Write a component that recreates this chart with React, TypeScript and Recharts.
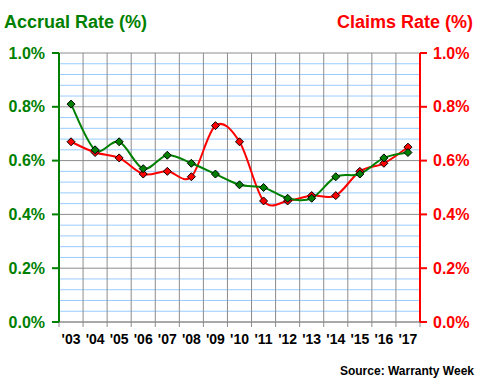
import React from 'react';
import { LineChart, Line, XAxis, YAxis, ReferenceLine } from 'recharts';

const years = ["'03", "'04", "'05", "'06", "'07", "'08", "'09", "'10", "'11", "'12", "'13", "'14", "'15", "'16", "'17"];
const accrualRate = [0.81, 0.64, 0.67, 0.57, 0.62, 0.59, 0.55, 0.51, 0.50, 0.46, 0.46, 0.54, 0.55, 0.61, 0.63];
const claimsRate = [0.67, 0.63, 0.61, 0.55, 0.56, 0.54, 0.73, 0.67, 0.45, 0.45, 0.47, 0.47, 0.56, 0.59, 0.65];
const yTicks = [0, 0.2, 0.4, 0.6, 0.8, 1.0];
const minorTicks = [0.04, 0.08, 0.12, 0.16, 0.24, 0.28, 0.32, 0.36, 0.44, 0.48, 0.52, 0.56, 0.64, 0.68, 0.72, 0.76, 0.84, 0.88, 0.92, 0.96];
const boundaryTicks = [-0.5, 0.5, 1.5, 2.5, 3.5, 4.5, 5.5, 6.5, 7.5, 8.5, 9.5, 10.5, 11.5, 12.5, 13.5, 14.5];
const labelTicks = [0, 1, 2, 3, 4, 5, 6, 7, 8, 9, 10, 11, 12, 13, 14];

const data = years.map((y, i) => ({ i, year: y, accrual: accrualRate[i], claims: claimsRate[i] }));

const GREEN = '#008000';
const RED = '#ff0000';
const GRID = '#8c8c8c';
const MINOR = '#99ccff';
const FONT = 'Arial, "Liberation Sans", sans-serif';

// Excel-like smoothed line (Catmull-Rom / cardinal tension 0)
const excelCurve = (context: any) => {
  let pts: [number, number][] = [];
  return {
    areaStart() {},
    areaEnd() {},
    lineStart() { pts = []; },
    lineEnd() {
      const n = pts.length;
      if (!n) return;
      context.moveTo(pts[0][0], pts[0][1]);
      for (let k = 0; k < n - 1; k++) {
        const p0 = pts[k - 1] || pts[k];
        const p1 = pts[k];
        const p2 = pts[k + 1];
        const p3 = pts[k + 2] || pts[k + 1];
        context.bezierCurveTo(
          p1[0] + (p2[0] - p0[0]) / 6, p1[1] + (p2[1] - p0[1]) / 6,
          p2[0] - (p3[0] - p1[0]) / 6, p2[1] - (p3[1] - p1[1]) / 6,
          p2[0], p2[1]
        );
      }
    },
    point(x: number, y: number) { pts.push([x, y]); },
  };
};

const Diamond = (fill: string) => (props: any) => {
  const { cx, cy, index } = props;
  if (cx == null || cy == null) return <g key={index} />;
  const r = 4;
  return (
    <polygon
      key={index}
      points={`${cx},${cy - r} ${cx + r},${cy} ${cx},${cy + r} ${cx - r},${cy}`}
      fill={fill}
      stroke="#000"
      strokeWidth={1}
    />
  );
};

const EmptyTick = () => <g />;
const pct = (v: number) => v.toFixed(1) + '%';

export default function App() {
  return (
    <div style={{ position: 'absolute', left: 0, top: 0, width: 480, height: 380, background: '#fff', fontFamily: FONT }}>
      <LineChart width={480} height={380} data={data} margin={{ top: 53, right: 0, left: 0, bottom: 0 }}>
        <XAxis xAxisId="g" type="number" dataKey="i" domain={[-0.5, 14.5]} ticks={boundaryTicks} tick={EmptyTick} interval={0}
          tickSize={5} height={6} axisLine={{ stroke: GRID, strokeWidth: 1 }} tickLine={{ stroke: GRID }} />
        <XAxis xAxisId="lab" type="number" dataKey="i" domain={[-0.5, 14.5]} ticks={labelTicks} interval={0}
          tickFormatter={(v: number) => years[v]} axisLine={false} tickLine={false} tickSize={4} tickMargin={2} height={52}
          tick={{ fill: '#000', fontSize: 14, fontWeight: 'bold', fontFamily: FONT }} />
        <YAxis yAxisId="l" orientation="left" domain={[0, 1]} ticks={yTicks} type="number" width={59} interval={0}
          tickFormatter={pct} tickSize={7} tickMargin={7}
          axisLine={{ stroke: GREEN, strokeWidth: 2 }} tickLine={{ stroke: GREEN, strokeWidth: 2 }}
          tick={{ fill: GREEN, fontSize: 16, fontWeight: 'bold', fontFamily: FONT }} />
        <YAxis yAxisId="lm" orientation="left" mirror domain={[0, 1]} ticks={yTicks} type="number" width={6} interval={0}
          tick={EmptyTick} tickSize={6} axisLine={false} tickLine={{ stroke: GREEN, strokeWidth: 2 }} />
        <YAxis yAxisId="r" orientation="right" domain={[0, 1]} ticks={yTicks} type="number" width={60} interval={0}
          tickFormatter={pct} tickSize={7} tickMargin={6}
          axisLine={{ stroke: RED, strokeWidth: 2 }} tickLine={{ stroke: RED, strokeWidth: 2 }}
          tick={{ fill: RED, fontSize: 16, fontWeight: 'bold', fontFamily: FONT }} />
        <YAxis yAxisId="rm" orientation="right" mirror domain={[0, 1]} ticks={yTicks} type="number" width={6} interval={0}
          tick={EmptyTick} tickSize={6} axisLine={false} tickLine={{ stroke: RED, strokeWidth: 2 }} />
        {minorTicks.map((v) => (
          <ReferenceLine key={'m' + v} xAxisId="g" yAxisId="l" y={v} stroke={MINOR} strokeWidth={1} />
        ))}
        {yTicks.map((v) => (
          <ReferenceLine key={'M' + v} xAxisId="g" yAxisId="l" y={v} stroke={GRID} strokeWidth={1} />
        ))}
        {boundaryTicks.map((v) => (
          <ReferenceLine key={'v' + v} xAxisId="g" yAxisId="l" x={v} stroke={GRID} strokeWidth={1} />
        ))}
        <Line xAxisId="g" yAxisId="r" dataKey="claims" type={excelCurve as any} stroke={RED} strokeWidth={2}
          dot={Diamond(RED)} activeDot={false} isAnimationActive={false} />
        <Line xAxisId="g" yAxisId="l" dataKey="accrual" type={excelCurve as any} stroke={GREEN} strokeWidth={2}
          dot={Diamond(GREEN)} activeDot={false} isAnimationActive={false} />
      </LineChart>
      <svg width={480} height={380} style={{ position: 'absolute', left: 0, top: 0, pointerEvents: 'none' }}>
        <text x={4} y={28} fill={GREEN} fontSize={18} fontWeight="bold" fontFamily={FONT}>Accrual Rate (%)</text>
        <text x={473} y={28} fill={RED} fontSize={18} fontWeight="bold" fontFamily={FONT} textAnchor="end">Claims Rate (%)</text>
        <text x={474} y={375} fill="#000" fontSize={12} fontWeight="bold" fontFamily={FONT} textAnchor="end">Source: Warranty Week</text>
      </svg>
    </div>
  );
}
